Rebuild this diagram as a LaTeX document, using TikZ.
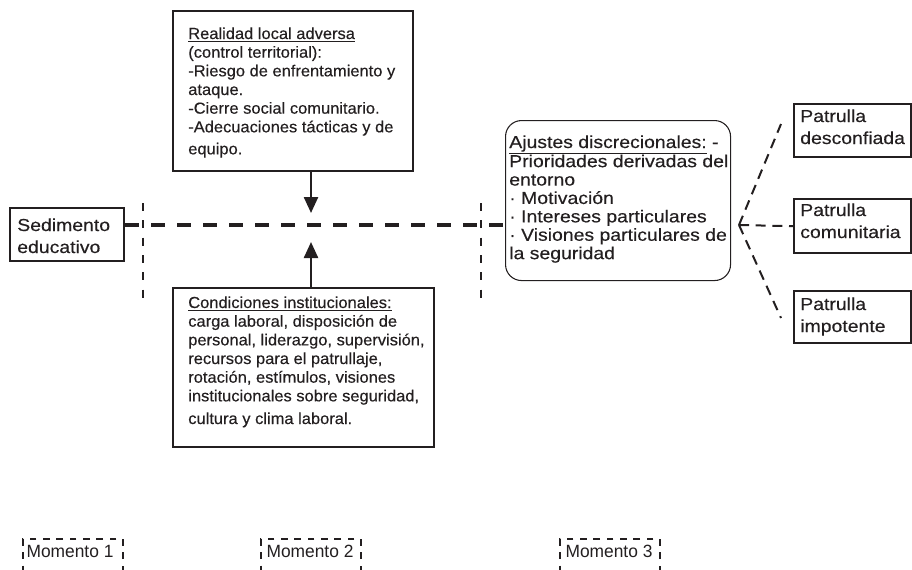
\documentclass[tikz,border=0pt]{standalone}
\usepackage{fontspec}
\setmainfont{Liberation Sans}[FakeStretch=1.03,FakeBold=0.35]
\newfontfamily\widefam{Liberation Sans}[FakeStretch=1.12,FakeBold=0.35]
\newfontfamily\plainsans{Liberation Sans}[FakeStretch=0.98]
\usetikzlibrary{arrows.meta}
\definecolor{ink}{HTML}{231F20}
\newcommand{\bodyfont}{\fontsize{12}{14}\selectfont}
\newcommand{\bigfont}{\widefam\fontsize{13}{13.8}\selectfont}
\newcommand{\boxfont}{\widefam\fontsize{13}{16.5}\selectfont}
\newcommand{\momfont}{\plainsans\fontsize{13.3}{15}\selectfont}
\newcommand{\lines}[1]{\begin{tabular}[t]{@{}l@{}}#1\end{tabular}}
\begin{document}
\begin{tikzpicture}[x=0.75pt,y=-0.75pt,
  frame/.style={draw=ink, line width=1.8pt, anchor=north west, inner sep=0pt},
  lbl/.style={anchor=base west, inner sep=0pt, text=ink},
  conn/.style={draw=ink, line width=3.4pt, dash pattern=on 10.5pt off 9pt},
  sepline/.style={draw=ink, line width=1.6pt, dash pattern=on 6pt off 7pt},
  branch/.style={draw=ink, line width=1.5pt, dash pattern=on 7.5pt off 5pt},
  arr/.style={draw=ink, line width=1.8pt, -{Triangle[width=10.5pt,length=12pt]}},
  moment/.style={draw=ink, line width=1.5pt, dash pattern=on 5pt off 5pt, anchor=north west, inner sep=0pt, minimum width=75pt, minimum height=40pt},
]
\useasboundingbox (0,0) rectangle (912,569);
\clip (0,0) rectangle (912,569);

% boxes
\node[frame, minimum width=85.5pt, minimum height=39.75pt] (sed) at (9,207) {};
\node[frame, minimum width=180pt, minimum height=120pt] (real) at (172,10) {};
\node[frame, minimum width=195.75pt, minimum height=119.25pt] (cond) at (172,287) {};
\node[frame, draw=ink, line width=0.8pt, rounded corners=12pt, minimum width=168.75pt, minimum height=120pt] (aj) at (505,120) {};
\node[frame, minimum width=87.75pt, minimum height=39.75pt] (p1) at (793,103) {};
\node[frame, minimum width=87.75pt, minimum height=40.5pt] (p2) at (793,198) {};
\node[frame, minimum width=87.75pt, minimum height=39pt] (p3) at (793,290) {};

% texts
\node[lbl, font=\boxfont] (sedt) at (17,231) {\lines{Sedimento\\educativo}};
\node[lbl, font=\bodyfont] (realt) at (188,39) {\lines{\underline{Realidad local adversa}\\(control territorial):\\-Riesgo de enfrentamiento y\\ataque.\\-Cierre social comunitario.\\-Adecuaciones tácticas y de\\[2.5pt]equipo.}};
\node[lbl, font=\bodyfont] (condt) at (188,308) {\lines{\underline{Condiciones institucionales:}\\carga laboral, disposición de\\personal, liderazgo, supervisión,\\recursos para el patrullaje,\\rotación, estímulos, visiones\\institucionales sobre seguridad,\\[3pt]cultura y clima laboral.}};
\node[lbl, font=\bigfont] (ajt) at (509,148) {\lines{\underline{Ajustes discrecionales:} -\\Prioridades derivadas del\\entorno\\· Motivación\\· Intereses particulares\\· Visiones particulares de\\la seguridad}};
\node[lbl, font=\boxfont] (p1t) at (800,122) {\lines{Patrulla\\desconfiada}};
\node[lbl, font=\boxfont] (p2t) at (800,216) {\lines{Patrulla\\comunitaria}};
\node[lbl, font=\boxfont] (p3t) at (800,310) {\lines{Patrulla\\impotente}};

% separators
\coordinate (v1t) at (143,203);
\coordinate (v1b) at (143,306);
\coordinate (v2t) at (481,203);
\coordinate (v2b) at (481,306);
\draw[sepline] (v1t) -- (v1b);
\draw[sepline] (v2t) -- (v2b);

% main connector
\coordinate (hy) at (0,225);
\draw[conn] (sed.east |- hy) -- (aj.west |- hy);

% arrows
\coordinate (tipd) at (311,213);
\coordinate (tipu) at (311,242);
\draw[arr] (real.south -| tipd) -- (tipd);
\draw[arr] (cond.north -| tipu) -- (tipu);

% branches
\coordinate (br) at (739,225);
\coordinate (e1) at (781,124);
\coordinate (e3) at (781,318);
\draw[branch] (br) -- (e1);
\draw[branch] (br) -- (p2.west);
\draw[branch] (br) -- (e3);

% momentos
\node[moment] (m1) at (22,538) {};
\node[moment] (m2) at (260,538) {};
\node[moment] (m3) at (559,538) {};
\node[lbl, anchor=base, font=\momfont] (m1t) at (70,557) {Momento 1};
\node[lbl, anchor=base, font=\momfont] (m2t) at (310,557) {Momento 2};
\node[lbl, anchor=base, font=\momfont] (m3t) at (609,557) {Momento 3};
\end{tikzpicture}
\end{document}
